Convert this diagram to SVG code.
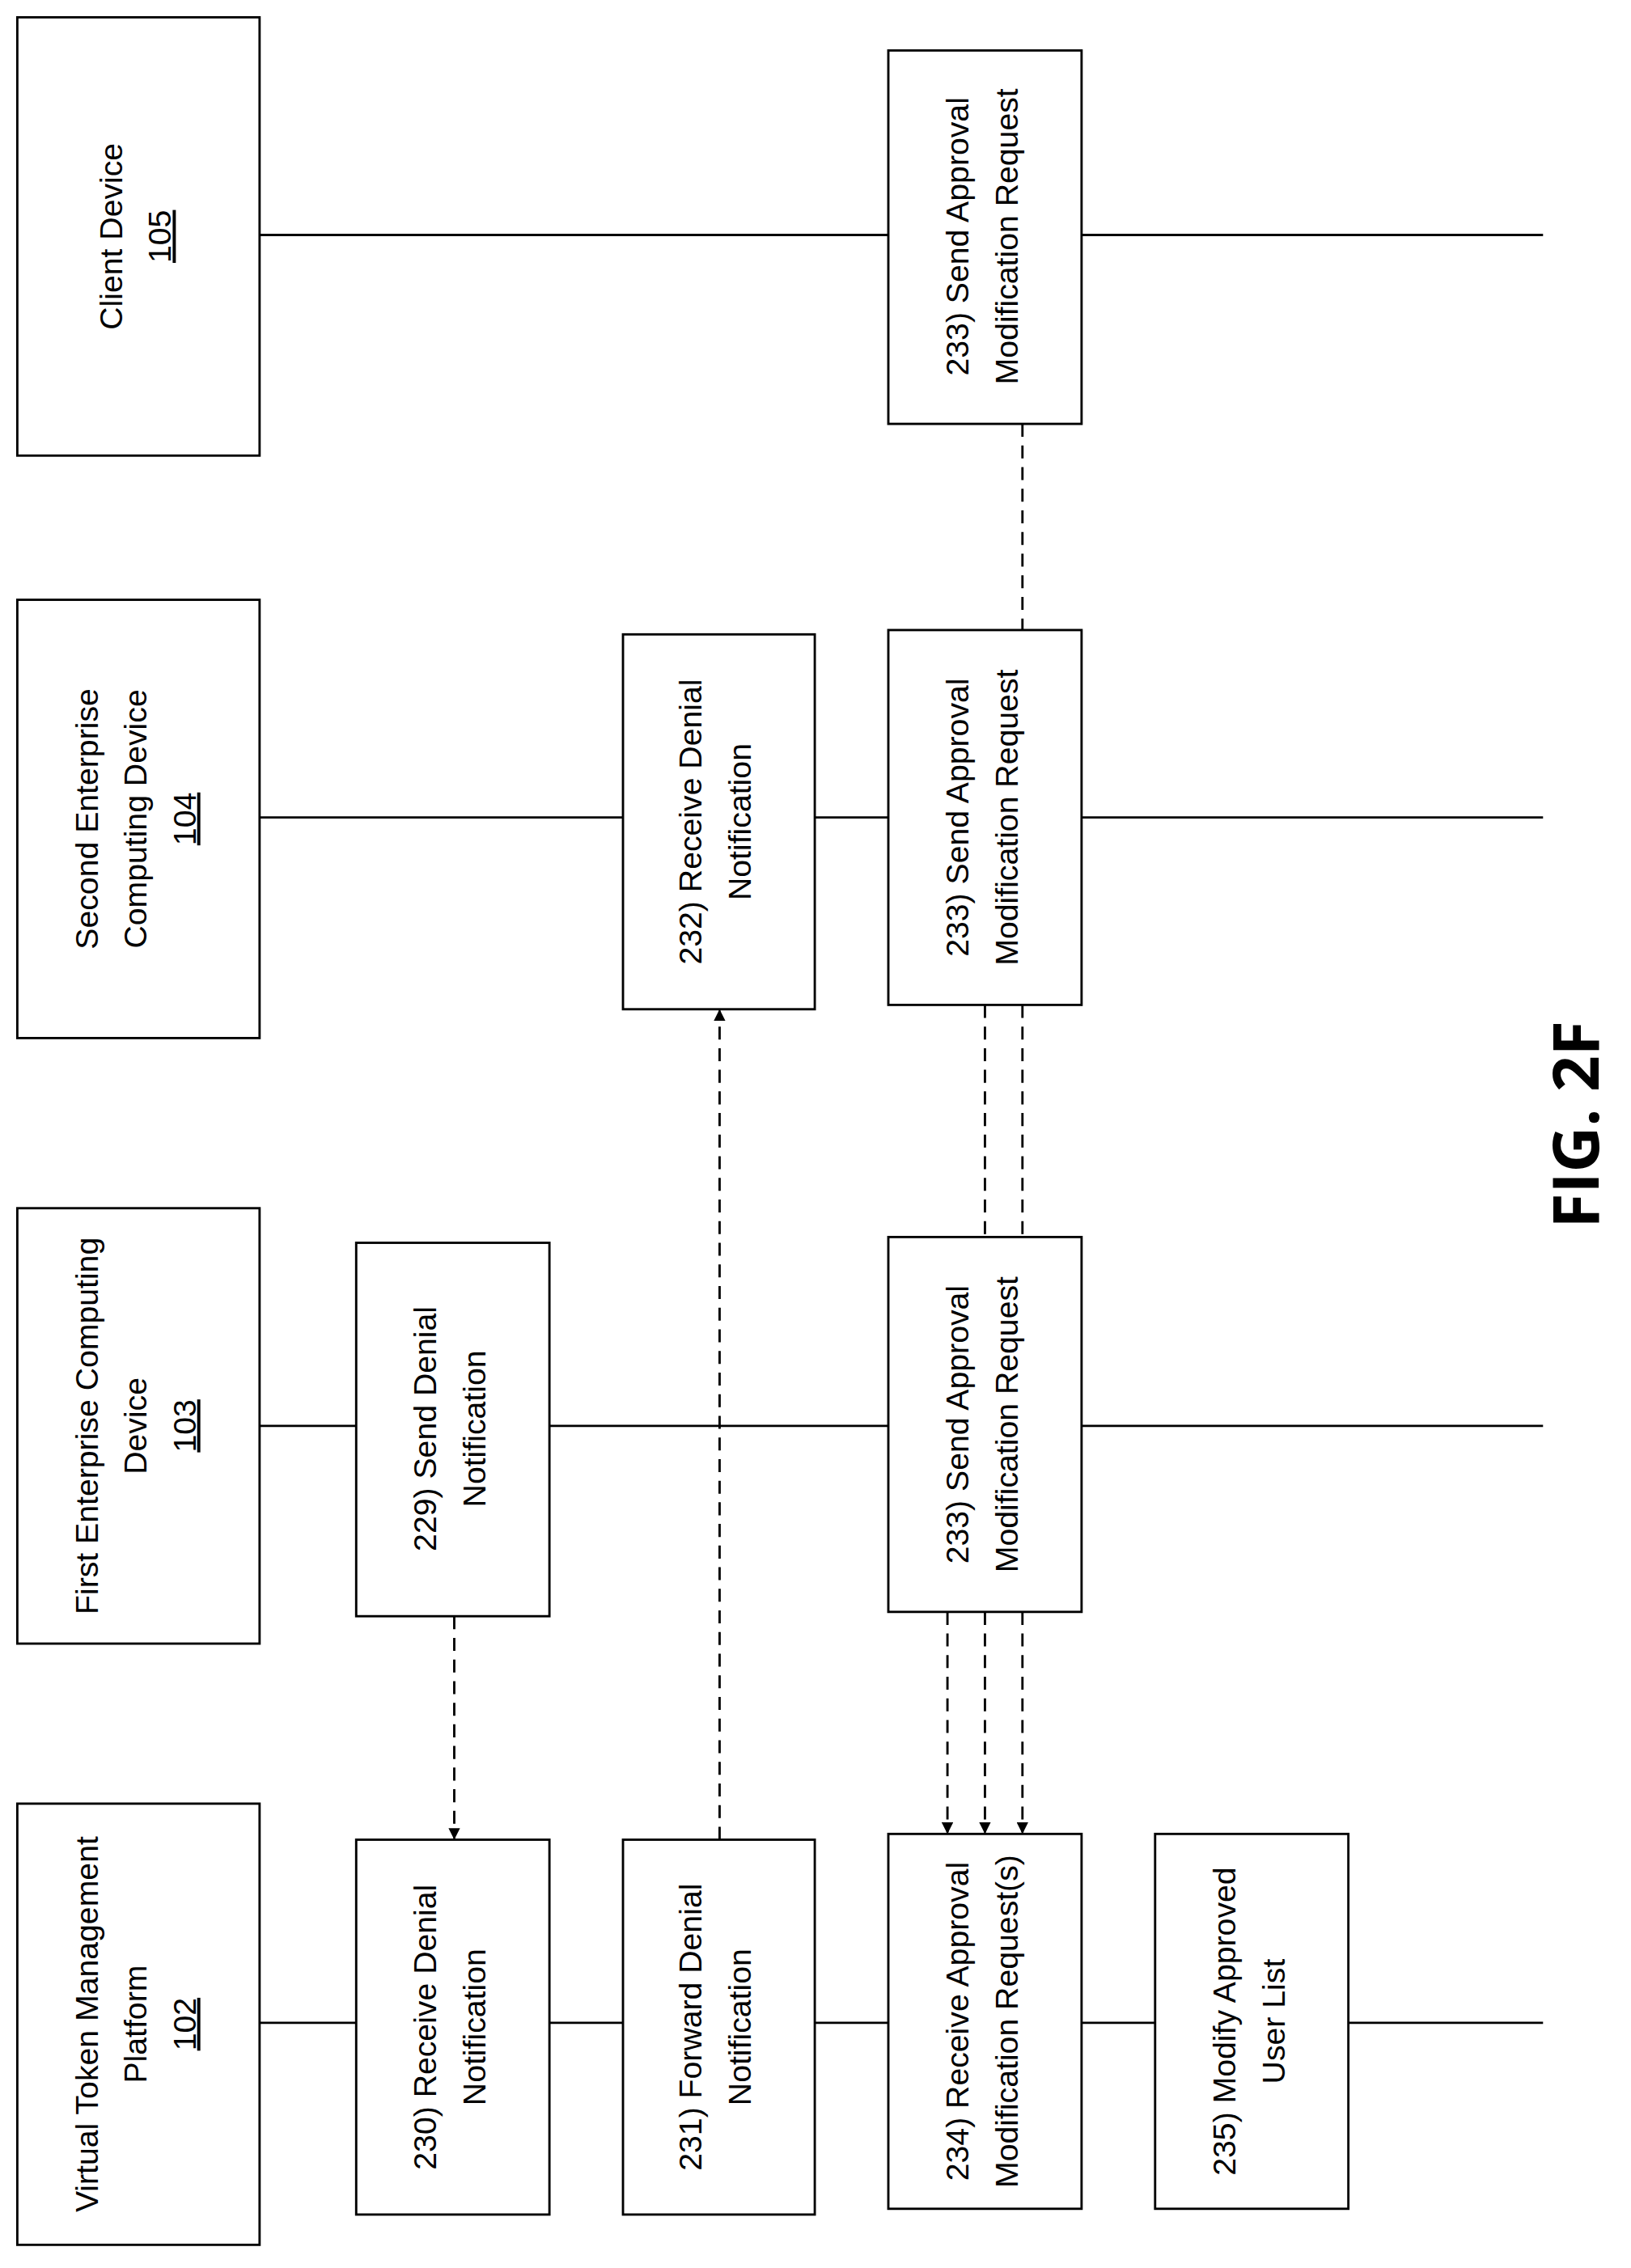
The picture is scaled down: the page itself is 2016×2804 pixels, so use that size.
<svg xmlns="http://www.w3.org/2000/svg" width="2016" height="2804" viewBox="0 0 2016 2804">
<style>
.b{fill:#fff;stroke:#000;stroke-width:1.6}
.l{stroke:#000;stroke-width:1.6;fill:none}
.d{stroke:#000;stroke-width:1.6;fill:none;stroke-dasharray:9 6}
text{font-family:"Liberation Sans Narrow","Liberation Sans",Arial,sans-serif;font-size:22px;text-anchor:middle;dominant-baseline:middle}
.u{text-decoration:underline}
</style>
<defs><marker id="a" markerWidth="8" markerHeight="8" refX="7" refY="4" orient="auto" markerUnits="userSpaceOnUse"><path d="M0,0L8,4L0,8z"/></marker></defs>
<rect width="2016" height="2804" fill="#fff"/>
<g transform="scale(1.7825)">
<g id="lifelines">
<line class="l" x1="180" y1="163" x2="1070" y2="163"/>
<line class="l" x1="180" y1="567" x2="1070" y2="567"/>
<line class="l" x1="180" y1="989" x2="1070" y2="989"/>
<line class="l" x1="180" y1="1403" x2="1070" y2="1403"/>
</g>
<g id="connectors">
<line class="d" x1="315" y1="1121" x2="315" y2="1275" marker-end="url(#a)"/>
<line class="d" x1="499" y1="1276" x2="499" y2="701" marker-end="url(#a)"/>
<line class="d" x1="709" y1="294" x2="709" y2="437"/>
<line class="d" x1="683" y1="697" x2="683" y2="858"/>
<line class="d" x1="709" y1="697" x2="709" y2="858"/>
<line class="d" x1="657" y1="1118" x2="657" y2="1271" marker-end="url(#a)"/>
<line class="d" x1="683" y1="1118" x2="683" y2="1271" marker-end="url(#a)"/>
<line class="d" x1="709" y1="1118" x2="709" y2="1271" marker-end="url(#a)"/>
</g>
<g id="client"><rect class="b" x="12" y="12" width="168" height="304"/>
<text transform="translate(96,164) rotate(-90)"><tspan x="0" y="-17">Client Device</tspan><tspan x="0" y="17" class="u">105</tspan></text></g>
<g id="second"><rect class="b" x="12" y="416" width="168" height="304"/>
<text transform="translate(96,568) rotate(-90)"><tspan x="0" y="-34">Second Enterprise</tspan><tspan x="0" y="0">Computing Device</tspan><tspan x="0" y="34" class="u">104</tspan></text></g>
<g id="first"><rect class="b" x="12" y="838" width="168" height="302"/>
<text transform="translate(96,989) rotate(-90)"><tspan x="0" y="-34">First Enterprise Computing</tspan><tspan x="0" y="0">Device</tspan><tspan x="0" y="34" class="u">103</tspan></text></g>
<g id="vtmp"><rect class="b" x="12" y="1251" width="168" height="306"/>
<text transform="translate(96,1404) rotate(-90)"><tspan x="0" y="-34">Virtual Token Management</tspan><tspan x="0" y="0">Platform</tspan><tspan x="0" y="34" class="u">102</tspan></text></g>
<g id="s233c"><rect class="b" x="616" y="35" width="134" height="259"/>
<text transform="translate(683,164) rotate(-90)"><tspan x="0" y="-17">233) Send Approval</tspan><tspan x="0" y="17">Modification Request</tspan></text></g>
<g id="s232"><rect class="b" x="432" y="440" width="133" height="260"/>
<text transform="translate(498,570) rotate(-90)"><tspan x="0" y="-17">232) Receive Denial</tspan><tspan x="0" y="17">Notification</tspan></text></g>
<g id="s233s"><rect class="b" x="616" y="437" width="134" height="260"/>
<text transform="translate(683,567) rotate(-90)"><tspan x="0" y="-17">233) Send Approval</tspan><tspan x="0" y="17">Modification Request</tspan></text></g>
<g id="s229"><rect class="b" x="247" y="862" width="134" height="259"/>
<text transform="translate(314,991) rotate(-90)"><tspan x="0" y="-17">229) Send Denial</tspan><tspan x="0" y="17">Notification</tspan></text></g>
<g id="s233f"><rect class="b" x="616" y="858" width="134" height="260"/>
<text transform="translate(683,988) rotate(-90)"><tspan x="0" y="-17">233) Send Approval</tspan><tspan x="0" y="17">Modification Request</tspan></text></g>
<g id="s230"><rect class="b" x="247" y="1276" width="134" height="260"/>
<text transform="translate(314,1406) rotate(-90)"><tspan x="0" y="-17">230) Receive Denial</tspan><tspan x="0" y="17">Notification</tspan></text></g>
<g id="s231"><rect class="b" x="432" y="1276" width="133" height="260"/>
<text transform="translate(498,1406) rotate(-90)"><tspan x="0" y="-17">231) Forward Denial</tspan><tspan x="0" y="17">Notification</tspan></text></g>
<g id="s234"><rect class="b" x="616" y="1272" width="134" height="260"/>
<text transform="translate(683,1402) rotate(-90)"><tspan x="0" y="-17">234) Receive Approval</tspan><tspan x="0" y="17">Modification Request(s)</tspan></text></g>
<g id="s235"><rect class="b" x="801" y="1272" width="134" height="260"/>
<text transform="translate(868,1402) rotate(-90)"><tspan x="0" y="-17">235) Modify Approved</tspan><tspan x="0" y="17">User List</tspan></text></g>
<text transform="translate(1097,780) rotate(-90)" style="font-family:'Open Sans','DejaVu Sans',sans-serif;font-size:44px;font-weight:bold">FIG. 2F</text>
</g>
</svg>
